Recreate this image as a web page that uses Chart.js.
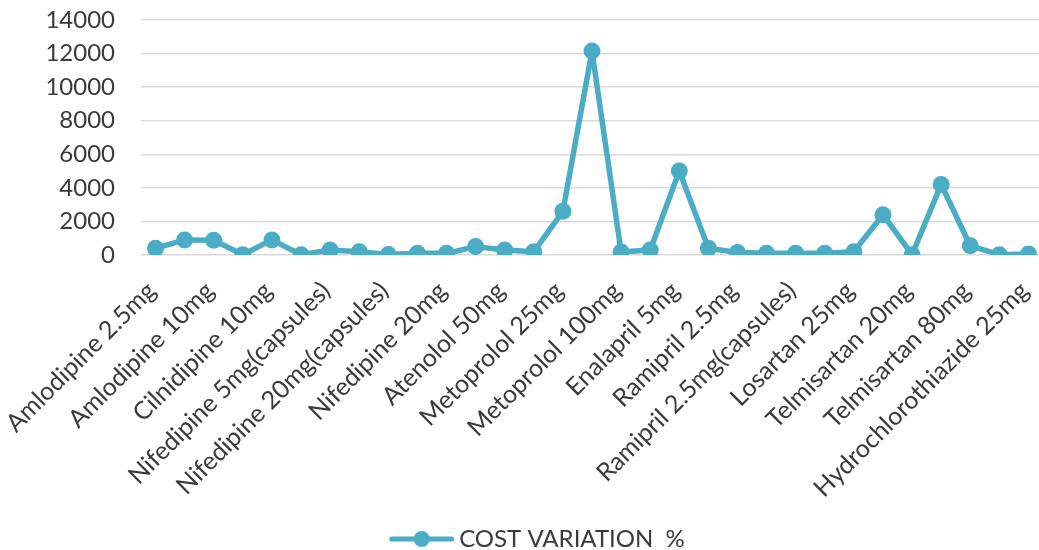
<!DOCTYPE html>
<html>
<head>
<meta charset="utf-8">
<title>Cost variation</title>
<script src="https://cdn.jsdelivr.net/npm/chart.js@4.4.1/dist/chart.umd.min.js"></script>
<style>
  html, body { margin: 0; padding: 0; background: #ffffff; overflow: hidden; }
  #wrap { position: relative; width: 1043px; height: 550px; }
</style>
</head>
<body>
<div id="wrap"><canvas id="chart"></canvas></div>
<script>
// Drug strengths on the category axis
const drugs = [
  'Amlodipine 2.5mg', 'Amlodipine 5mg', 'Amlodipine 10mg', 'Cilnidipine 5mg',
  'Cilnidipine 10mg', 'Cilnidipine 20mg', 'Nifedipine 5mg(capsules)', 'Nifedipine 10mg(capsules)',
  'Nifedipine 20mg(capsules)', 'Nifedipine 10mg', 'Nifedipine 20mg', 'Atenolol 25mg',
  'Atenolol 50mg', 'Atenolol 100mg', 'Metoprolol 25mg', 'Metoprolol 50mg',
  'Metoprolol 100mg', 'Enalapril 2.5mg', 'Enalapril 5mg', 'Enalapril 10mg',
  'Ramipril 2.5mg', 'Ramipril 5mg', 'Ramipril 2.5mg(capsules)', 'Ramipril 5mg(capsules)',
  'Losartan 25mg', 'Losartan 50mg', 'Telmisartan 20mg', 'Telmisartan 40mg',
  'Telmisartan 80mg', 'Hydrochlorothiazide 12.5mg', 'Hydrochlorothiazide 25mg'
];

// Cost variation (%) between the cheapest and costliest brand
const costVariation = [
  400, 900, 880, 20, 900, 20, 300, 200, 30, 100, 100, 500,
  300, 200, 2600, 12150, 180, 300, 5000, 400, 150, 100, 100, 100,
  200, 2400, 20, 4200, 550, 20, 60
];

// Value axis ticks
const yTicks = [0, 2000, 4000, 6000, 8000, 10000, 12000, 14000];

const seriesName = 'COST VARIATION  %';
const lineColor = '#4bacc6';
const textColor = '#3a3a3a';
const fontFamily = 'Lato, "Liberation Sans", sans-serif';

// Legend marker: a short line with a dot in the middle
const markerBox = 89;
const marker = document.createElement('canvas');
marker.width = markerBox + 14; marker.height = 18;
(function () {
  const c = marker.getContext('2d');
  const x1 = marker.width - 65, x2 = marker.width;
  c.strokeStyle = lineColor; c.lineWidth = 5; c.lineCap = 'round';
  c.beginPath(); c.moveTo(x1 + 2.5, 9); c.lineTo(x2 - 2.5, 9); c.stroke();
  c.fillStyle = lineColor;
  c.beginPath(); c.arc((x1 + x2) / 2, 9, 8, 0, Math.PI * 2); c.fill();
})();

new Chart(document.getElementById('chart'), {
  type: 'line',
  data: {
    labels: drugs,
    datasets: [{
      label: seriesName,
      data: costVariation,
      borderColor: lineColor,
      backgroundColor: lineColor,
      borderWidth: 5.5,
      borderJoinStyle: 'round',
      borderCapStyle: 'round',
      pointRadius: 8.5,
      pointHoverRadius: 8.5,
      pointBorderWidth: 0,
      pointBackgroundColor: lineColor,
      tension: 0,
      fill: false
    }]
  },
  options: {
    responsive: true,
    maintainAspectRatio: false,
    animation: false,
    layout: { autoPadding: false, padding: { top: 20, left: 0, right: 0, bottom: 0 } },
    plugins: {
      tooltip: { enabled: false },
      legend: {
        position: 'bottom',
        maxHeight: 25,
        labels: {
          usePointStyle: true,
          pointStyleWidth: markerBox,
          padding: 2,
          color: textColor,
          font: { family: fontFamily, size: 24 },
          generateLabels: () => [{
            text: seriesName,
            pointStyle: marker,
            fillStyle: lineColor,
            strokeStyle: lineColor,
            lineWidth: 0,
            fontColor: textColor,
            datasetIndex: 0,
            hidden: false
          }]
        }
      }
    },
    scales: {
      x: {
        offset: true,
        grid: { display: false, drawTicks: false },
        border: { display: false },
        ticks: {
          autoSkip: false,
          minRotation: 45,
          maxRotation: 45,
          padding: 21,
          labelOffset: -4,
          color: textColor,
          font: { family: fontFamily, size: 25 },
          callback: function (value, index) {
            return index % 2 === 0 ? this.getLabelForValue(value) : '';
          }
        },
        afterFit: (scale) => {
          scale.height = 270;
          // the slanted labels have room on both sides, so the plot spans the full width
          scale.paddingLeft = 0;
          scale.paddingRight = 0;
        }
      },
      y: {
        min: 0,
        max: 14000,
        afterBuildTicks: (scale) => { scale.ticks = yTicks.map(v => ({ value: v })); },
        grid: {
          color: '#d9d9d9',
          lineWidth: 1.5,
          drawTicks: true,
          tickLength: 26,
          tickColor: 'rgba(0,0,0,0)'
        },
        border: { display: false },
        ticks: {
          padding: 0,
          color: textColor,
          font: { family: fontFamily, size: 24 },
          callback: (value) => String(value)
        },
        afterFit: (scale) => { scale.width = 141; }
      }
    }
  }
});
</script>
</body>
</html>
